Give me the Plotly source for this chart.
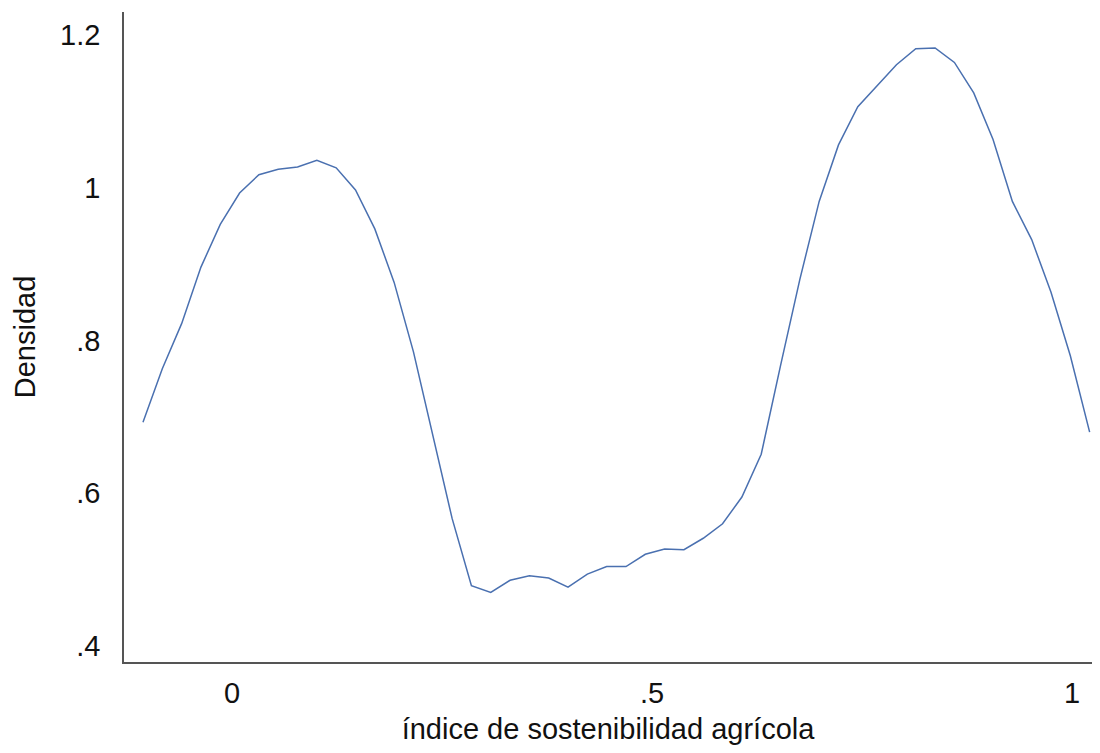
import plotly.graph_objects as go

# Kernel density estimate points
x_vals = [-0.106, -0.083, -0.060, -0.037, -0.014, 0.009, 0.032, 0.055, 0.078, 0.101,
          0.124, 0.147, 0.170, 0.193, 0.216, 0.239, 0.262, 0.285, 0.308, 0.331,
          0.354, 0.377, 0.400, 0.423, 0.446, 0.469, 0.492, 0.515, 0.538, 0.561,
          0.584, 0.607, 0.630, 0.653, 0.676, 0.699, 0.722, 0.745, 0.768, 0.791,
          0.814, 0.837, 0.860, 0.883, 0.906, 0.929, 0.952, 0.975, 0.998, 1.021]
density = [0.693, 0.763, 0.822, 0.896, 0.952, 0.993, 1.017, 1.024, 1.027, 1.036,
           1.026, 0.997, 0.946, 0.876, 0.785, 0.675, 0.567, 0.479, 0.470, 0.486,
           0.492, 0.489, 0.477, 0.494, 0.504, 0.504, 0.520, 0.527, 0.526, 0.541,
           0.560, 0.595, 0.651, 0.767, 0.880, 0.982, 1.056, 1.106, 1.134, 1.161,
           1.182, 1.183, 1.164, 1.124, 1.063, 0.982, 0.932, 0.863, 0.780, 0.680]

x_tickvals = [0, 0.5, 1]
x_ticktext = ["0", ".5", "1"]
y_tickvals = [0.4, 0.6, 0.8, 1.0, 1.2]
y_ticktext = [".4", ".6", ".8", "1", "1.2"]

FONT = "Liberation Sans, Arial, Helvetica, sans-serif"

fig = go.Figure()
fig.add_trace(go.Scatter(
    x=x_vals, y=density, mode="lines",
    line=dict(color="#4a70b0", width=1.5),
    showlegend=False, hoverinfo="skip",
))

fig.update_layout(
    width=1084, height=737,
    margin=dict(l=116, r=0, t=4, b=81),
    paper_bgcolor="white", plot_bgcolor="white",
    font=dict(family=FONT, size=29, color="#111111"),
    xaxis=dict(
        range=[-0.1286, 1.0238],
        tickvals=x_tickvals, ticktext=x_ticktext,
        showgrid=False, zeroline=False,
        showline=True, linecolor="#555555", linewidth=1.5,
        ticks="", ticklabelstandoff=4,
        title=dict(text="índice de sostenibilidad agrícola", standoff=16,
                   font=dict(size=29)),
    ),
    yaxis=dict(
        range=[0.379, 1.23],
        tickvals=y_tickvals, ticktext=y_ticktext,
        showgrid=False, zeroline=False,
        showline=True, linecolor="#555555", linewidth=1.5,
        ticks="", ticklabelstandoff=16,
        title=dict(text="Densidad", standoff=16, font=dict(size=29)),
    ),
)

fig.write_html("out.html")
